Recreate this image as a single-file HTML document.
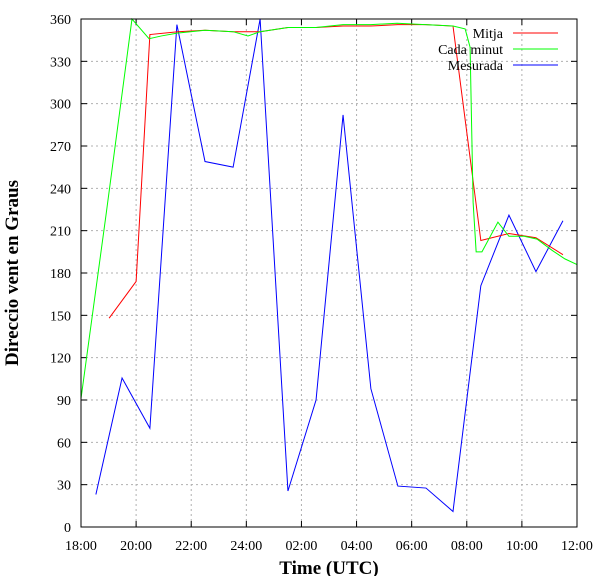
<!DOCTYPE html>
<html><head><meta charset="utf-8"><style>
body{margin:0;background:#fff}
svg{display:block;font-family:"Liberation Serif",serif}
</style></head><body>
<svg id="c" width="604" height="576" xmlns="http://www.w3.org/2000/svg">
<g id="grid"></g>
<g id="axes"></g>
<g id="series"></g>
<rect x="81" y="19" width="496" height="508" fill="none" stroke="#000" stroke-width="1"/>
<text x="18" y="273" transform="rotate(-90 18 273)" text-anchor="middle" font-size="19" font-weight="bold">Direccio vent en Graus</text>
<text x="329" y="574" text-anchor="middle" font-size="19" font-weight="bold">Time (UTC)</text>
<g id="legend"></g>
</svg>
<script>
const yTicks=[0,30,60,90,120,150,180,210,240,270,300,330,360];
const xTickHours=[0,2,4,6,8,10,12,14,16,18];
const xTickLabels=["18:00","20:00","22:00","24:00","02:00","04:00","06:00","08:00","10:00","12:00"];
const seriesNames=["Mitja","Cada minut","Mesurada"];
const seriesColors=["#ff0000","#00ff00","#0000ff"];
const mitjaHours=[1.02,2.0,2.5,3.52,4.5,5.52,6.5,7.51,8.53,9.51,10.52,11.5,12.52,13.5,14.51,15.53,16.51,17.49];
const mitjaValues=[148,174,349,351,352,351,351,354,354,355,355,356,356,355,203,208,205,193];
const minutHours=[0,0.9,1.85,2.47,2.92,3.49,4.5,5.52,6.06,6.5,7.51,8.53,9.51,10.52,11.47,12.48,13.5,13.94,14.12,14.23,14.34,14.55,15.13,15.53,16.08,16.55,17.1,17.56,18.0];
const minutValues=[91,220,360,346,348,350,352,351,348,351,354,354,356,356,357,356,355,353,340,230,195,195,216,206,206,204,196,190,186];
const mesuradaHours=[0.54,1.49,2.5,3.48,4.5,5.52,6.5,7.51,8.53,9.51,10.52,11.5,12.52,13.5,14.51,15.53,16.51,17.49];
const mesuradaValues=[23,105.6,70,356,259,255,360,25.5,90,292,98,29,27.6,11,171,221,181,217];

const X0=81,X1=577,Y0=527,Y1=19;
const xs=h=>X0+(h/18)*(X1-X0);
const ys=v=>Y0-(v/360)*(Y0-Y1);
const NS="http://www.w3.org/2000/svg";
function mk(tag,attrs,parent){const e=document.createElementNS(NS,tag);for(const k in attrs)e.setAttribute(k,attrs[k]);parent.appendChild(e);return e;}
const grid=document.getElementById('grid'),axes=document.getElementById('axes'),ser=document.getElementById('series'),leg=document.getElementById('legend');
yTicks.forEach(v=>{
  const y=ys(v);
  if(v>0&&v<360){const g=mk('line',{x1:X0,x2:X1,y1:y,y2:y,stroke:'#b0b0b0','stroke-dasharray':'2,3','stroke-width':1},grid);
  
  }
  mk('line',{x1:X0,x2:X0+6,y1:y,y2:y,stroke:'#000'},axes);
  mk('line',{x1:X1-6,x2:X1,y1:y,y2:y,stroke:'#000'},axes);
  const t=mk('text',{x:71,y:y+5,'text-anchor':'end','font-size':14},axes);
  t.textContent=v;
  
  
});
xTickHours.forEach((h,i)=>{
  const x=xs(h);
  if(i>0&&i<xTickHours.length-1){const g=mk('line',{x1:x,x2:x,y1:Y1,y2:Y0,stroke:'#b0b0b0','stroke-dasharray':'2,3','stroke-width':1},grid);
  
  }
  mk('line',{x1:x,x2:x,y1:Y0-6,y2:Y0,stroke:'#000'},axes);
  mk('line',{x1:x,x2:x,y1:Y1,y2:Y1+6,stroke:'#000'},axes);
  const t=mk('text',{x:x,y:550,'text-anchor':'middle','font-size':14},axes);
  t.textContent=xTickLabels[i];
  
  
});
const data=[[mitjaHours,mitjaValues],[minutHours,minutValues],[mesuradaHours,mesuradaValues]];
const order=[2,0,1];
order.forEach(i=>{
  const [hs,vs]=data[i];
  const p=mk('polyline',{points:hs.map((h,j)=>xs(h)+','+ys(vs[j])).join(' '),fill:'none',stroke:seriesColors[i],'stroke-width':1},ser);
  
  
});
seriesNames.forEach((n,i)=>{
  const y=33+i*16;
  const t=mk('text',{x:503,y:y+5,'text-anchor':'end','font-size':14},leg);
  t.textContent=n;
  
  
  const l=mk('line',{x1:513,x2:558,y1:y,y2:y,stroke:seriesColors[i],'stroke-width':1},leg);
  
  
});
</script>
</body></html>
